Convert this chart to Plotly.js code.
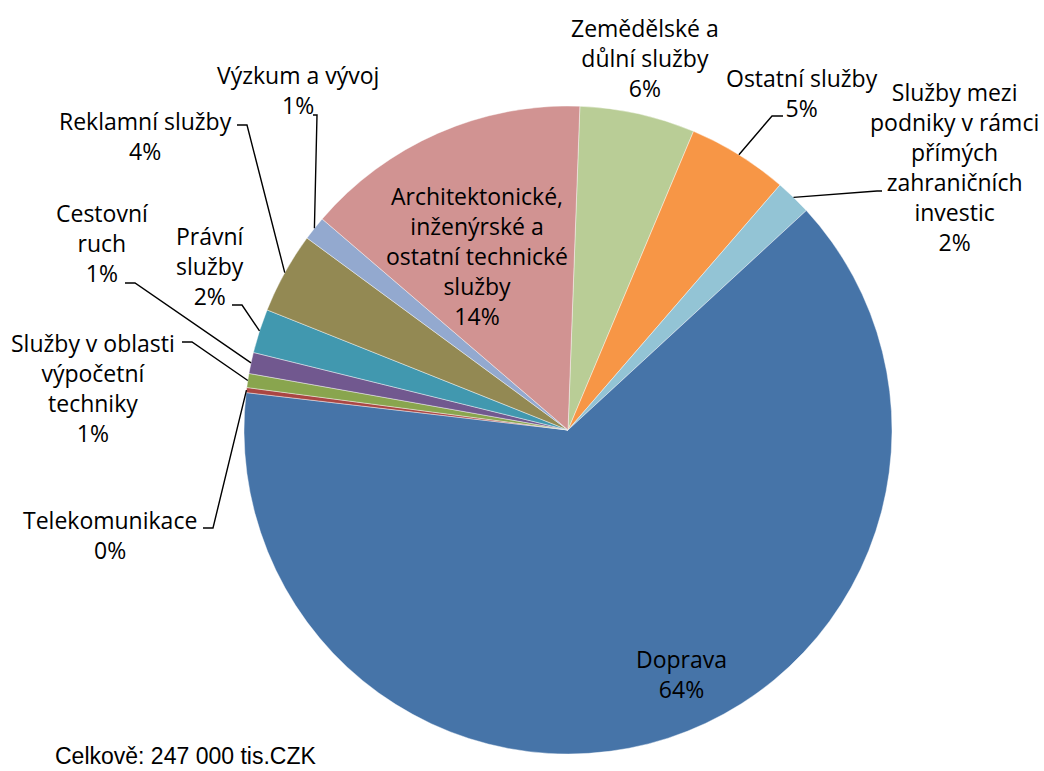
<!DOCTYPE html>
<html>
<head>
<meta charset="utf-8">
<script src="https://cdn.plot.ly/plotly-3.0.1.min.js"></script>
<style>
  html, body { margin: 0; padding: 0; background: #ffffff; }
  #chart { width: 1044px; height: 771px; }
</style>
</head>
<body>
<div id="chart"></div>
<script>
// ---- Data (tis. CZK), in clockwise order starting just right of 12 o'clock ----
const categories = [
  "Zemědělské a důlní služby",
  "Ostatní služby",
  "Služby mezi podniky v rámci přímých zahraničních investic",
  "Doprava",
  "Telekomunikace",
  "Služby v oblasti výpočetní techniky",
  "Cestovní ruch",
  "Právní služby",
  "Reklamní služby",
  "Výzkum a vývoj",
  "Architektonické, inženýrské a ostatní technické služby"
];
const values = [14200, 12400, 4450, 157300, 620, 1730, 2600, 5430, 10000, 2960, 35300];
const labelLines = [
  ["Zemědělské a", "důlní služby"],
  ["Ostatní služby"],
  ["Služby mezi", "podniky v rámci", "přímých", "zahraničních", "investic"],
  ["Doprava"],
  ["Telekomunikace"],
  ["Služby v oblasti", "výpočetní", "techniky"],
  ["Cestovní", "ruch"],
  ["Právní", "služby"],
  ["Reklamní služby"],
  ["Výzkum a vývoj"],
  ["Architektonické,", "inženýrské a", "ostatní technické", "služby"]
];
const colors = ["#B9CD96", "#F79646", "#93C4D5", "#4674A8", "#AA4643", "#89A54E",
                "#71588F", "#4198AF", "#938953", "#93A9CF", "#D19392"];
const totalText = "Celkově: 247 000 tis.CZK";

// ---- Layout geometry (pixels) ----
const W = 1044, H = 771;
const CX = 568, CY = 430, R = 324;
const ROT = 2.1;
const FONT = "Open Sans, Noto Sans, sans-serif";
const FS = 23;

// label block centres and leader-line elbows (pixels); null = no leader
const labelPos = [
  [645, 58], [802, 93], [954, 167], [681, 674], [110, 535], [93, 388],
  [102, 243], [210, 266], [145, 136], [298, 90], [477, 256]
];
const leaders = [
  null,
  [[783, 116], [772, 116]],
  [[882, 191], [877, 191]],
  null,
  [[203, 528], [213, 528]],
  [[182, 342], [192, 342]],
  [[125, 283], [135, 283]],
  [[232, 305], [242, 305]],
  [[237, 125], [247, 125]],
  [[313, 115], [317, 115]],
  null
];

const px = x => x / W;
const py = y => 1 - y / H;

const total = values.reduce((a, b) => a + b, 0);
const pct = values.map(v => Math.round(v / total * 100) + "%");

// slice mid-angles -> anchor points on circumference
let cum = 0;
const anchors = values.map(v => {
  const mid = (ROT + 360 * (cum + v / 2) / total) * Math.PI / 180;
  cum += v;
  return [CX + R * Math.sin(mid), CY - R * Math.cos(mid)];
});

const annotations = labelLines.map((lines, i) => ({
  text: lines.concat([pct[i]]).join("<br>"),
  x: px(labelPos[i][0]), y: py(labelPos[i][1]),
  xref: "paper", yref: "paper",
  xanchor: "center", yanchor: "middle",
  showarrow: false, align: "center",
  font: { family: FONT, size: FS, color: "#000000" }
}));
annotations.push({
  text: totalText,
  x: px(53), y: py(756), xref: "paper", yref: "paper",
  xanchor: "left", yanchor: "middle", showarrow: false,
  font: { family: "Liberation Sans, Arial, sans-serif", size: 23, color: "#000000" }
});

const shapes = [];
leaders.forEach((pts, i) => {
  if (!pts) return;
  const a = anchors[i];
  const path = `M ${px(pts[0][0])} ${py(pts[0][1])} L ${px(pts[1][0])} ${py(pts[1][1])} L ${px(a[0])} ${py(a[1])}`;
  shapes.push({
    type: "path", path: path, xref: "paper", yref: "paper",
    line: { color: "#000000", width: 1.4 }
  });
});

const trace = {
  type: "pie",
  labels: categories,
  values: values,
  sort: false,
  direction: "clockwise",
  rotation: ROT,
  textinfo: "none",
  hoverinfo: "label+value+percent",
  marker: { colors: colors, line: { color: "rgba(255,255,255,0.7)", width: 0.6 } },
  domain: { x: [px(CX - R), px(CX + R)], y: [py(CY + R), py(CY - R)] },
  showlegend: false
};

const layout = {
  width: W, height: H,
  margin: { l: 0, r: 0, t: 0, b: 0 },
  paper_bgcolor: "#ffffff",
  plot_bgcolor: "#ffffff",
  showlegend: false,
  annotations: annotations,
  shapes: shapes
};

Plotly.newPlot("chart", [trace], layout, { displayModeBar: false, staticPlot: true });
</script>
</body>
</html>
